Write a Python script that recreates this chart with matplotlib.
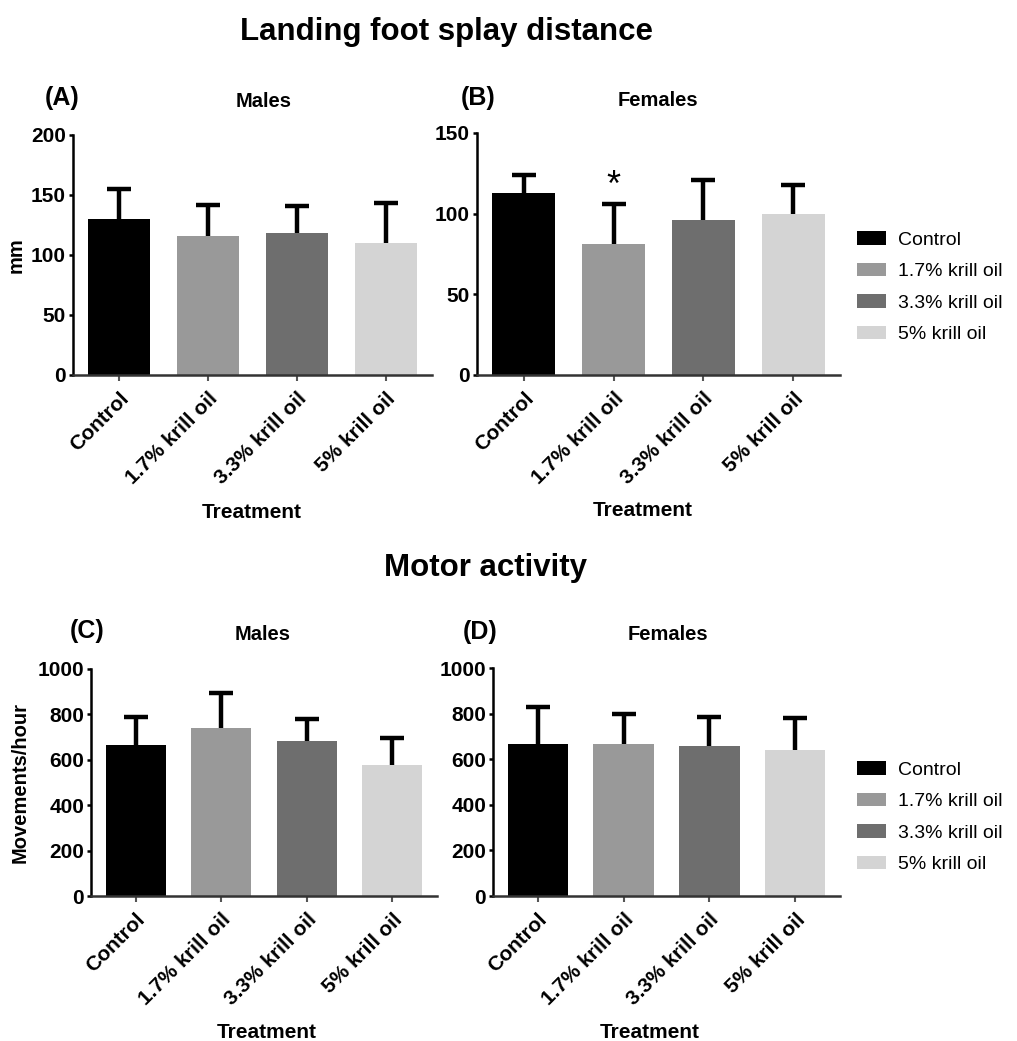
import numpy as np
import matplotlib
matplotlib.use('Agg')
import matplotlib.pyplot as plt
from matplotlib.patches import Patch

plt.rcParams['font.family'] = ['Liberation Sans', 'DejaVu Sans']

treatments = ['Control', '1.7% krill oil', '3.3% krill oil', '5% krill oil']
bar_colors = ['#000000', '#999999', '#6e6e6e', '#d4d4d4']

# landing foot splay (mm)
splay_males_mean = [130, 116, 118, 110]
splay_males_sd = [25, 26, 23, 33]
splay_females_mean = [113, 81, 96, 100]
splay_females_sd = [11, 25, 25, 18]

# motor activity (movements/hour)
motor_males_mean = [665, 740, 685, 578]
motor_males_sd = [123, 154, 94, 118]
motor_females_mean = [668, 668, 660, 641]
motor_females_sd = [160, 130, 126, 139]

W, H = 1017, 1041
fig = plt.figure(figsize=(W / 100, H / 100), dpi=100)


def px_axes(left, top, right, bottom):
    return fig.add_axes([left / W, 1 - bottom / H, (right - left) / W, (bottom - top) / H])


def bar_panel(ax, means, sds, ymax, step):
    x = np.arange(len(treatments))
    ax.bar(x, means, width=0.7, color=bar_colors, edgecolor='none', zorder=2)
    eb = ax.errorbar(x, means, yerr=[np.zeros(len(sds)), sds], fmt='none',
                     ecolor='black', elinewidth=3.2, capsize=8.5, capthick=3.2, zorder=3)
    eb[1][0].set_visible(False)  # hide the lower caps
    ax.set_xlim(-0.52, 3.52)
    ax.set_ylim(0, ymax)
    ax.set_yticks(np.arange(0, ymax + 1, step))
    ax.set_xticks(x)
    ax.set_xticklabels(treatments, rotation=45, ha='right', rotation_mode='anchor',
                       fontsize=15, fontweight='bold')
    for lab in ax.get_yticklabels():
        lab.set_fontweight('bold')
        lab.set_fontsize(15)
    ax.spines['top'].set_visible(False)
    ax.spines['right'].set_visible(False)
    ax.spines['left'].set_linewidth(1.8)
    ax.spines['bottom'].set_linewidth(1.8)
    ax.spines['bottom'].set_color('#333333')
    ax.tick_params(axis='y', direction='out', length=3, width=1.8, pad=2)
    ax.tick_params(axis='x', direction='out', length=4, width=1.5, color='#555555', pad=6)


axA = px_axes(73, 135, 432, 375)
bar_panel(axA, splay_males_mean, splay_males_sd, 200, 50)
axA.set_ylabel('mm', fontsize=14.5, fontweight='bold')
axA.yaxis.set_label_coords(-0.131, 0.5)

axB = px_axes(477, 133, 840, 375)
bar_panel(axB, splay_females_mean, splay_females_sd, 150, 50)
axB.text(1, splay_females_mean[1] + splay_females_sd[1] + 11, '*', ha='center', va='center',
         fontsize=26)

axC = px_axes(91, 669, 437, 896)
bar_panel(axC, motor_males_mean, motor_males_sd, 1000, 200)
axC.set_ylabel('Movements/hour', fontsize=14.5, fontweight='bold')
axC.yaxis.set_label_coords(-0.176, 0.5)

axD = px_axes(493, 668, 840, 896)
bar_panel(axD, motor_females_mean, motor_females_sd, 1000, 200)


def ftext(x, y, s, **kw):
    fig.text(x / W, 1 - y / H, s, ha='center', va='center', **kw)


ftext(446, 32, 'Landing foot splay distance', fontsize=22.5, fontweight='bold')
ftext(486, 568, 'Motor activity', fontsize=22.5, fontweight='bold')

ftext(62, 98, '(A)', fontsize=18, fontweight='bold')
ftext(478, 98, '(B)', fontsize=18, fontweight='bold')
ftext(87, 631, '(C)', fontsize=18, fontweight='bold')
ftext(480, 632, '(D)', fontsize=18, fontweight='bold')

ftext(264, 102, 'Males', fontsize=14.5, fontweight='bold')
ftext(658, 101, 'Females', fontsize=14.5, fontweight='bold')
ftext(263, 635, 'Males', fontsize=14.5, fontweight='bold')
ftext(668, 635, 'Females', fontsize=14.5, fontweight='bold')

ftext(252, 512, 'Treatment', fontsize=15, fontweight='bold')
ftext(643, 511, 'Treatment', fontsize=15, fontweight='bold')
ftext(267, 1033, 'Treatment', fontsize=15, fontweight='bold')
ftext(650, 1033, 'Treatment', fontsize=15, fontweight='bold')

handles = [Patch(facecolor=c, edgecolor='none') for c in bar_colors]
for top in (231, 761):
    fig.legend(handles, treatments, loc='upper left', bbox_to_anchor=(857 / W, 1 - top / H),
               frameon=False, fontsize=14, handlelength=1.5, handleheight=0.7,
               handletextpad=0.6, labelspacing=0.72, borderpad=0, borderaxespad=0)

fig.savefig('out.png', dpi=100)
